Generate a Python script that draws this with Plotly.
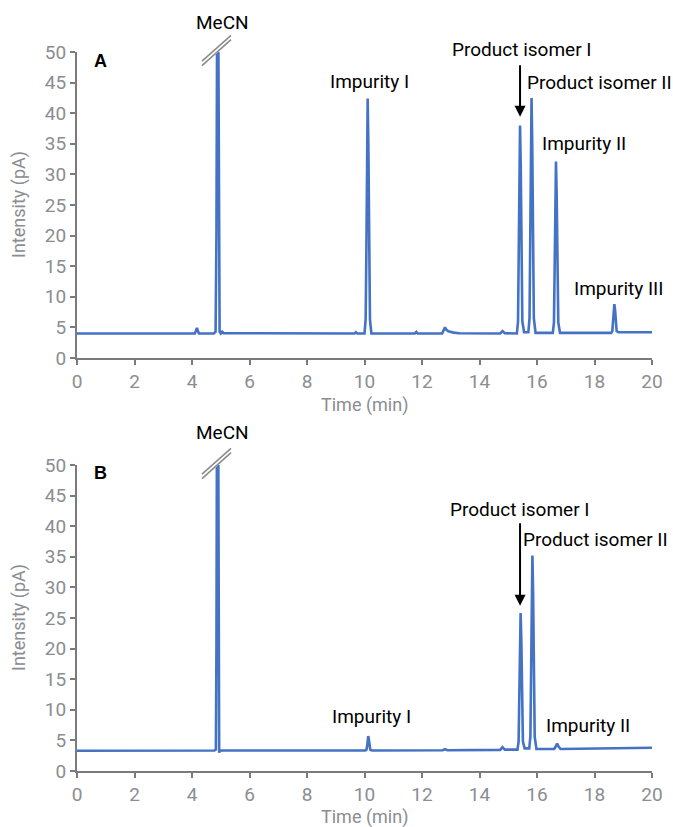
import plotly.graph_objects as go
from plotly.subplots import make_subplots

# ---- Data ----
time_a = [0.0, 4.10, 4.14, 4.17, 4.20, 4.24,
          4.76, 4.82, 4.85, 4.87, 4.89, 4.91, 4.93, 4.96, 5.00, 5.05, 5.10,
          9.65, 9.70, 9.75,
          10.00, 10.04, 10.065, 10.085, 10.11, 10.135, 10.16, 10.19, 10.24,
          11.75, 11.80, 11.85,
          12.70, 12.76, 12.80, 12.85, 12.92, 13.10, 13.30,
          14.72, 14.80, 14.88,
          15.30, 15.34, 15.365, 15.385, 15.41, 15.435, 15.46, 15.49, 15.55,
          15.70, 15.74, 15.765, 15.785, 15.81, 15.835, 15.86, 15.89, 15.95,
          16.55, 16.59, 16.615, 16.635, 16.66, 16.685, 16.71, 16.74, 16.80,
          18.58, 18.62, 18.645, 18.665, 18.69, 18.715, 18.74, 18.77, 18.83,
          20.0]
int_a = [4.0, 4.0, 4.5, 4.9, 4.5, 4.0,
         4.0, 4.3, 20.0, 60.0, 80.0, 60.0, 20.0, 4.3, 4.0, 4.3, 4.05,
         4.0, 4.2, 4.0,
         4.0, 6.3, 17.4, 34.7, 42.4, 34.7, 17.4, 6.3, 4.0,
         4.0, 4.25, 4.0,
         4.0, 4.6, 5.0, 4.6, 4.35, 4.15, 4.05,
         4.0, 4.4, 4.05,
         4.0, 6.0, 15.9, 31.2, 38.0, 31.2, 15.9, 6.0, 4.2,
         4.2, 6.5, 17.6, 34.8, 42.5, 34.8, 17.6, 6.5, 4.1,
         4.1, 5.8, 13.9, 26.5, 32.1, 26.5, 13.9, 5.8, 4.1,
         4.1, 4.4, 5.7, 7.9, 8.8, 7.9, 5.7, 4.4, 4.2,
         4.2]

time_b = [0.0, 4.78, 4.83, 4.85, 4.87, 4.89, 4.91, 4.93, 4.945, 4.97, 5.05,
          10.03, 10.07, 10.095, 10.115, 10.13, 10.15, 10.17, 10.20, 10.26,
          12.72, 12.80, 12.88,
          14.72, 14.80, 14.88,
          15.32, 15.36, 15.385, 15.405, 15.43, 15.455, 15.48, 15.51, 15.57,
          15.73, 15.77, 15.795, 15.815, 15.84, 15.865, 15.89, 15.92, 15.98,
          16.60, 16.65, 16.70, 16.75, 16.82, 20.0]
int_b = [3.3, 3.35, 3.5, 20.0, 60.0, 80.0, 60.0, 20.0, 3.0, 3.3, 3.35,
         3.35, 3.5, 4.2, 5.25, 5.7, 5.25, 4.2, 3.5, 3.35,
         3.4, 3.55, 3.4,
         3.45, 3.9, 3.5,
         3.5, 4.8, 11.3, 21.3, 25.8, 21.3, 11.3, 4.8, 3.7,
         3.7, 5.6, 14.7, 28.9, 35.2, 28.9, 14.7, 5.6, 3.6,
         3.6, 4.0, 4.5, 4.0, 3.6, 3.8]

# peak labels inside the plot area: (text, time, intensity)
labels_a = [("Impurity I", 10.19, 45.2), ("Product isomer II", 18.19, 45.0),
            ("Impurity II", 17.65, 35.1), ("Impurity III", 18.85, 11.4)]
labels_b = [("Impurity I", 10.26, 8.9), ("Product isomer I", 15.40, 42.8),
            ("Product isomer II", 18.05, 37.9), ("Impurity II", 17.77, 7.5)]
arrow_a = (15.41, 39.4)
arrow_b = (15.41, 27.0)

x_ticks = list(range(0, 21, 2))
y_ticks = list(range(0, 51, 5))
x_title = "Time (min)"
y_title = "Intensity (pA)"

LINE = "#4472c4"
GREY = "#8a8d92"
AXIS = "#7b7b7b"
FONT = "Roboto"
LBL = 19

# pixel geometry of the plotting areas
W0, PW, B0, PH = 77, 575, 771, 719
def px(x):
    return (x - W0) / PW
def py(y):
    return (B0 - y) / PH

fig = make_subplots(rows=2, cols=1, vertical_spacing=107 / 719)
fig.add_trace(go.Scatter(x=time_a, y=int_a, mode="lines", line=dict(color=LINE, width=2.6),
                         showlegend=False), row=1, col=1)
fig.add_trace(go.Scatter(x=time_b, y=int_b, mode="lines", line=dict(color=LINE, width=2.6),
                         showlegend=False), row=2, col=1)

axis_common = dict(showgrid=False, zeroline=False, showline=True, linecolor=AXIS, linewidth=2,
                   ticks="outside", ticklen=5, tickcolor=AXIS, tickwidth=1.5, automargin=False,
                   tickfont=dict(family=FONT, size=19, color=GREY))
for r in (1, 2):
    fig.update_xaxes(range=[0, 20], tickvals=x_ticks, row=r, col=1, **axis_common)
    fig.update_yaxes(range=[0, 50], tickvals=y_ticks, row=r, col=1, **axis_common)

anns = []
for (txt, x, y) in labels_a:
    anns.append(dict(text=txt, x=x, y=y, xref="x", yref="y", showarrow=False,
                     font=dict(family=FONT, size=LBL, color="black")))
for (txt, x, y) in labels_b:
    anns.append(dict(text=txt, x=x, y=y, xref="x2", yref="y2", showarrow=False,
                     font=dict(family=FONT, size=LBL, color="black")))
# labels above the plotting area
for (txt, x, y) in [("MeCN", 222, 22), ("Product isomer I", 521, 49.3), ("MeCN", 222, 432.7)]:
    anns.append(dict(text=txt, x=px(x), y=py(y), xref="paper", yref="paper", showarrow=False,
                     xanchor="center", yanchor="middle",
                     font=dict(family=FONT, size=LBL, color="black")))
# axis titles
for yc in (405, 816.5):
    anns.append(dict(text=x_title, x=px(364.5), y=py(yc), xref="paper", yref="paper", showarrow=False,
                     xanchor="center", yanchor="middle", font=dict(family=FONT, size=18, color=GREY)))
for yc in (205, 618):
    anns.append(dict(text=y_title, x=px(19), y=py(yc), xref="paper", yref="paper", showarrow=False,
                     textangle=-90, xanchor="center", yanchor="middle",
                     font=dict(family=FONT, size=18, color=GREY)))
anns.append(dict(text="", x=arrow_a[0], y=arrow_a[1], xref="x", yref="y", ax=0, ay=-53,
                 showarrow=True, arrowhead=2, arrowsize=1.1, arrowwidth=2, arrowcolor="black"))
anns.append(dict(text="", x=arrow_b[0], y=arrow_b[1], xref="x2", yref="y2", ax=0, ay=-84,
                 showarrow=True, arrowhead=2, arrowsize=1.1, arrowwidth=2, arrowcolor="black"))
anns.append(dict(text="<b>A</b>", x=px(100), y=py(61), xref="paper", yref="paper", showarrow=False,
                 xanchor="center", yanchor="middle",
                 font=dict(family="Liberation Sans", size=18, color="black")))
anns.append(dict(text="<b>B</b>", x=px(100), y=py(473), xref="paper", yref="paper", showarrow=False,
                 xanchor="center", yanchor="middle",
                 font=dict(family="Liberation Sans", size=18, color="black")))

# axis-break marks on the MeCN peaks
shapes = []
for off in (0, 413):
    shapes.append(dict(type="line", xref="paper", yref="paper",
                       x0=px(203), y0=py(63.2 + off), x1=px(230), y1=py(38.8 + off),
                       line=dict(color="white", width=4)))
    for d in (-2.2, 2.2):
        shapes.append(dict(type="line", xref="paper", yref="paper",
                           x0=px(202), y0=py(63.4 + off + d), x1=px(231), y1=py(37.5 + off + d),
                           line=dict(color="#8c8c8c", width=1.6)))

fig.update_layout(width=673, height=827, margin=dict(l=77, r=21, t=52, b=56, autoexpand=False),
                  plot_bgcolor="white", paper_bgcolor="white", annotations=anns, shapes=shapes,
                  font=dict(family=FONT))
fig.write_html("out.html")
